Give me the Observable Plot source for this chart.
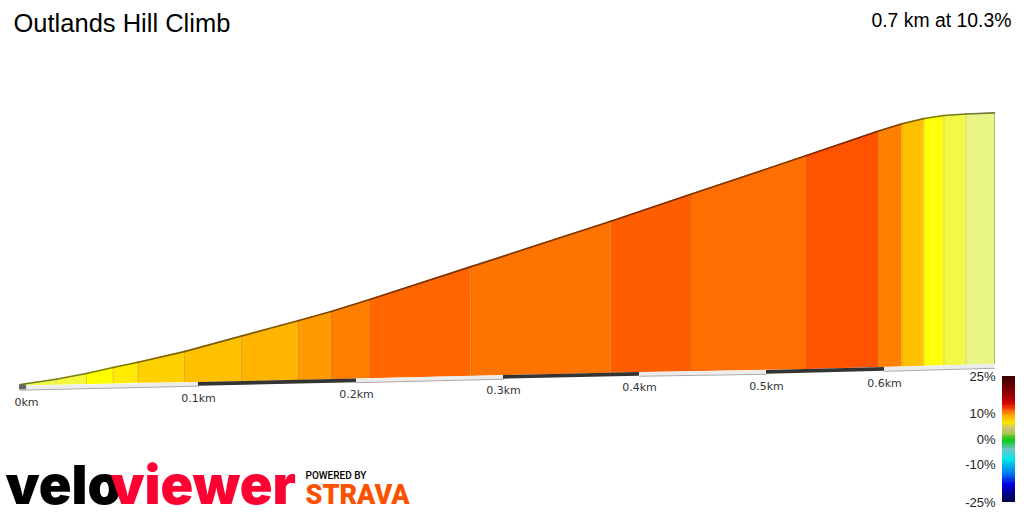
<!DOCTYPE html>
<html><head><meta charset="utf-8">
<script src="https://cdn.jsdelivr.net/npm/d3@7"></script>
<script src="https://cdn.jsdelivr.net/npm/@observablehq/plot@0.6"></script>
<style>
html,body{margin:0;padding:0;background:#fff;width:1024px;height:512px;overflow:hidden}
#c{position:relative;width:1024px;height:512px}
#main{position:absolute;left:0;top:0;overflow:visible}
#bar{position:absolute;left:960px;top:360px;overflow:visible}
[aria-label="velo"],[aria-label="viewer"]{letter-spacing:-9px}
[aria-label="powered"]{letter-spacing:2.4px}
[aria-label="strava"]{letter-spacing:-1px}
</style></head><body><div id="c"></div>
<script>
// distance along the climb (km) at each gradient-band boundary
const distKm   = [0,0.020,0.037,0.052,0.066,0.092,0.127,0.163,0.184,0.209,0.278,0.379,0.441,0.534,0.595,0.616,0.636,0.654,0.674,0.700];
// elevation at the profile's top edge (m gained)
const topElev  = [0,1.4,2.9,4.5,5.9,8.7,12.8,16.9,19.3,22.5,31.2,43.2,50.4,60.6,67.1,69,70.4,71.2,71.6,71.9];
// elevation of the slanted ground edge at the same boundaries
const baseElev = [-0.4,-0.2,0,0.15,0.3,0.45,0.75,1.05,1.25,1.55,2.15,3.0,3.4,3.95,4.5,4.65,4.8,4.95,5.1,5.3];
// gradient (%) of each band
const bandGrade = [5.5,5.8,6.5,7.2,8.2,8.8,9.2,10.2,11.2,12.2,11.7,12.8,11.9,13.2,11.2,8.8,6.4,5.6,4.5];
// ground strip at each 0.1 km tick
const tickKm   = [0,0.1,0.2,0.3,0.4,0.5,0.6,0.7];
const tickNames = ["0km","0.1km","0.2km","0.3km","0.4km","0.5km","0.6km"];
const stripTop = [-0.53,0.53,1.46,2.38,3.17,3.70,4.5,5.29];
const stripBot = [-1.5,-0.44,0.48,1.4,2.19,2.7,3.5,4.3];
const labelElev = [-4.7,-3.7,-2.6,-1.6,-0.9,-0.4,0.3];
const labelKm = [0.0034,0.1,0.2,0.3,0.4,0.5,0.6];
// gradient colour key
const keyGrades = [-25,-18,-14,-8,-4,-1,0.5,2,4,6.5,9,11,12.5,14.5,18,25];
const keyColours = ["#00003c","#0000e0","#0070f0","#00e8e8","#70c4c8","#10c828","#30c818","#a8c848","#c8c080","#f8e800","#ffb400","#ff7000","#f03800","#d00000","#900000","#380000"];
// band fills on the same gradient values
const fillGrades = [4.5,5.5,5.8,6.5,7.2,8.2,8.8,9.2,10.2,11.2,11.7,12.2,12.8,13.2];
const fillColours = ["#e9f685","#f2f84a","#f5f93e","#ffff00","#ffea00","#ffd000","#ffc000","#ffb400","#ff9a00","#ff8000","#ff7300","#ff6600","#ff5e00","#ff5300"];
const keyTicks = [25,10,0,-10,-25];
const title = "Outlands Hill Climb";
const summary = "0.7 km at 10.3%";

const bands = [];
bandGrade.forEach((g,i)=>{
  bands.push({b:i,g,km:distKm[i],top:topElev[i],base:baseElev[i]});
  bands.push({b:i,g,km:distKm[i+1],top:topElev[i+1],base:baseElev[i+1]});
});
const strips = [];
for(let i=0;i<tickKm.length-1;i++){
  const dark = (i===1||i===3||i===5);
  strips.push({s:i,dark,km:tickKm[i],t:stripTop[i],b:stripBot[i]});
  strips.push({s:i,dark,km:tickKm[i+1],t:stripTop[i+1],b:stripBot[i+1]});
}
const edges = distKm.map((km,i)=>({km,top:topElev[i],base:baseElev[i]}));
const labels = tickNames.map((name,i)=>({name,km:labelKm[i],e:labelElev[i]}));
const fillOf = d3.scaleLinear(fillGrades,fillColours);
const topLines = bandGrade.map((g,i)=>Plot.line(bands.filter(d=>d.b===i),{x:"km",y:"top",stroke:d3.rgb(fillOf(g)).darker(2).formatHex(),strokeWidth:1.6}));

const main = Plot.plot({
  width:1024,height:512,margin:0,
  style:{background:"transparent"},
  x:{type:"linear",domain:tickKm,range:[20,198,356,503,639,766,884,994],axis:null},
  y:{type:"linear",domain:[0,72],range:[384,112],axis:null},
  color:{type:"linear",domain:fillGrades,range:fillColours,interpolate:"rgb"},
  marks:[
    Plot.areaY(bands,{x:"km",y1:"base",y2:"top",z:"b",fill:"g",curve:"linear"}),
    Plot.ruleX(edges.slice(1,-1),{x:"km",y1:"base",y2:"top",stroke:"#805000",strokeOpacity:0.2,strokeWidth:1}),
    Plot.ruleX(edges.slice(-1),{x:"km",y1:"base",y2:"top",stroke:"#a8a850",strokeOpacity:0.8,strokeWidth:1}),
    ...topLines,
    Plot.areaY(strips.filter(d=>!d.dark),{x:"km",y1:"b",y2:"t",z:"s",fill:"#ececec"}),
    Plot.line(strips.filter(d=>!d.dark),{x:"km",y:"b",z:"s",stroke:"#a8a8a8",strokeWidth:1}),
    Plot.areaY(strips.filter(d=>d.dark),{x:"km",y1:"b",y2:"t",z:"s",fill:"#333333"}),
    Plot.rect([0],{x1:()=>-0.0006,x2:()=>0.0034,y1:()=>-1.4,y2:()=>-0.1,fill:"#666666"}),
    Plot.text(labels,{x:"km",y:"e",text:"name",fontSize:11,fontFamily:"DejaVu Sans",fill:"#333"}),
    Plot.text([title],{frameAnchor:"top-left",dx:13,dy:13,fontSize:25.5,fontFamily:"Liberation Sans",fill:"#000",lineAnchor:"top"}),
    Plot.text([summary],{frameAnchor:"top-right",dx:-13,dy:13,fontSize:19.4,fontFamily:"Liberation Sans",fill:"#000",lineAnchor:"top"}),
    Plot.text(["velo"],{frameAnchor:"top-left",dx:5,dy:503,lineAnchor:"bottom",fontSize:54,fontWeight:900,fontFamily:"Inter",fill:"#000",ariaLabel:"velo"}),
    Plot.text(["viewer"],{frameAnchor:"top-left",dx:110,dy:503,lineAnchor:"bottom",fontSize:54,fontWeight:900,fontFamily:"Inter",fill:"#ff0033",ariaLabel:"viewer"}),
    Plot.text(["POWERED BY"],{frameAnchor:"top-left",dx:305,dy:478,lineAnchor:"bottom",fontSize:10,fontWeight:500,fontFamily:"Roboto",fill:"#000",ariaLabel:"powered"}),
    Plot.text(["STRAVA"],{frameAnchor:"top-left",dx:305,dy:503,lineAnchor:"bottom",fontSize:27,fontWeight:900,fontFamily:"Roboto",fill:"#fc5200",ariaLabel:"strava"})
  ]
});
main.id="main";
document.getElementById("c").append(main);

const keySteps = d3.range(-25,25,0.5);
const bar = Plot.plot({
  width:64,height:150,marginLeft:41,marginRight:9,marginTop:16,marginBottom:8,
  style:{background:"transparent"},
  x:{domain:[0,1],axis:null},
  y:{domain:[-25,25],label:null,axis:null},
  color:{type:"linear",domain:keyGrades,range:keyColours,interpolate:"rgb"},
  marks:[
    Plot.rect(keySteps,{x1:()=>0.1,x2:()=>1,y1:d=>d,y2:d=>d+0.5,fill:d=>d+0.25,shapeRendering:"crispEdges"}),
    Plot.axisY({ticks:keyTicks,tickFormat:d=>d+"%",tickSize:0,tickPadding:6,anchor:"left",fontSize:13,fontFamily:"Liberation Sans",label:null,fill:"#222"})
  ]
});
bar.id="bar";
document.getElementById("c").append(bar);
</script></body></html>
